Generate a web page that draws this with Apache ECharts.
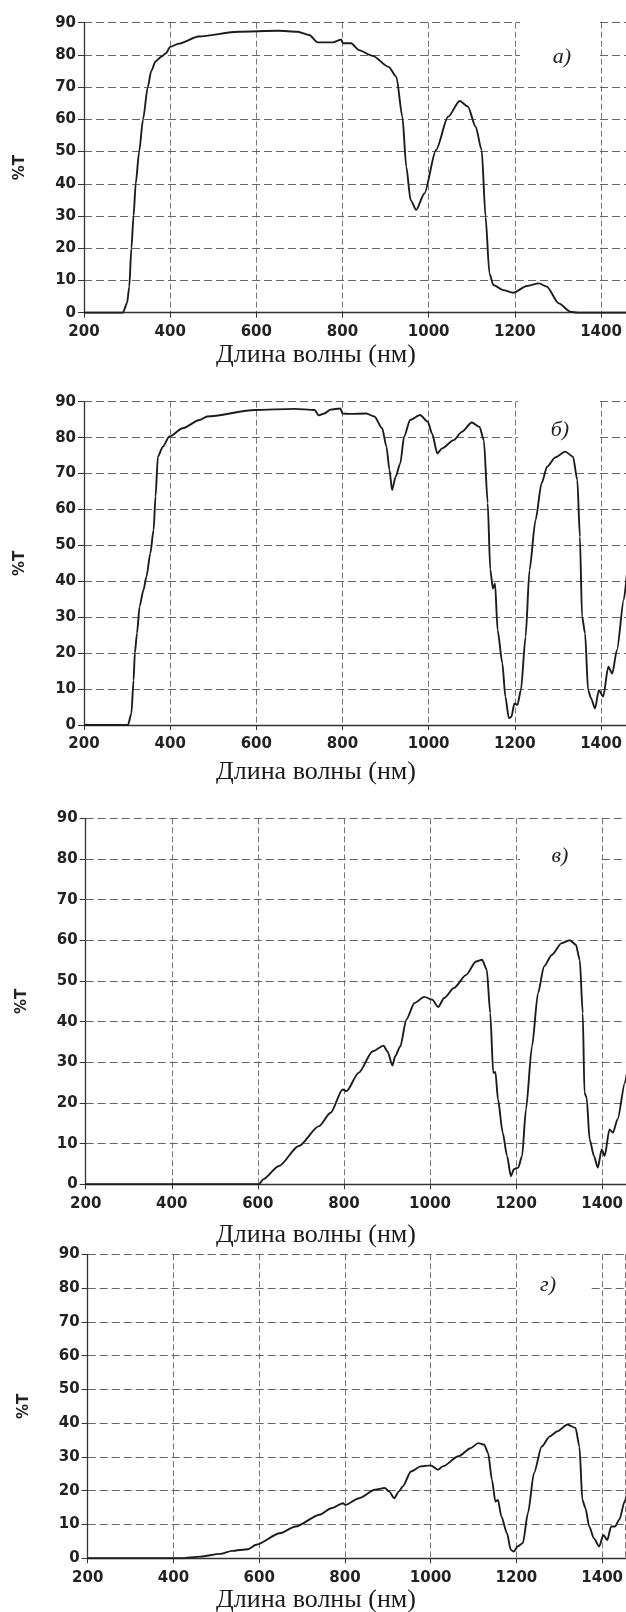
<!DOCTYPE html>
<html><head><meta charset="utf-8">
<script src="https://cdn.jsdelivr.net/npm/echarts@6/dist/echarts.min.js"></script>
<style>html,body{margin:0;padding:0;background:#fff;overflow:hidden}#c{width:626px;height:1612px}</style>
</head><body><div id="c"></div><script>
// ---- data (wavelength, nm / transmittance, %T) ----
const xTickValues = [200, 400, 600, 800, 1000, 1200, 1400];
const yTickValues = [0, 10, 20, 30, 40, 50, 60, 70, 80, 90];
const panelLabels = ['а)', 'б)', 'в)', 'г)'];
const xTitle = 'Длина волны (нм)';
const yTitle = '%T';

const waveA = [200, 290, 300, 305, 310, 315, 320, 328, 337, 348, 356, 366, 380, 390, 400, 420, 466, 558, 650, 696, 723, 742, 778, 797, 801, 820, 838, 870, 907, 925, 939, 948, 958, 971, 990, 1017, 1045, 1072, 1091, 1109, 1123, 1132, 1141, 1150, 1173, 1196, 1228, 1256, 1274, 1302, 1329, 1345, 1460];
const transA = [0, 0, 3, 8, 20, 30, 40, 50, 60, 70, 75, 78, 79.5, 80.5, 82.5, 83.5, 85.7, 87.2, 87.5, 87.2, 86.2, 83.9, 83.9, 84.8, 83.6, 83.6, 81.5, 79.7, 76.3, 73.2, 60.8, 45.3, 35, 31.9, 37, 50.5, 60.8, 65.7, 64, 57.7, 50.5, 29.8, 12.2, 8.6, 7, 6.2, 8.3, 9.1, 8.1, 2.9, 0.3, 0, 0];

const waveB = [200, 302, 310, 315, 318, 323, 329, 338, 345, 354, 361.5, 366, 371.5, 383, 398, 429, 468, 486, 597, 689, 735, 745, 758, 772, 795, 800, 818, 855, 874, 892, 902, 909, 915, 923, 934, 943, 957, 980, 998, 1008, 1020, 1031, 1058, 1077, 1100, 1118, 1128, 1137, 1143, 1149, 1154, 1160, 1171, 1178, 1186, 1192, 1199, 1206, 1214, 1225, 1234, 1248, 1262, 1275, 1294, 1317, 1335, 1345, 1351, 1356, 1363, 1370, 1377, 1386, 1395, 1405, 1417, 1426, 1437, 1453, 1460];
const transB = [0, 0, 3.2, 12.5, 20, 25.5, 33, 37.6, 41.3, 47.8, 54.3, 63.6, 74.7, 77.5, 80.3, 82.6, 84.9, 85.9, 87.7, 88, 87.7, 86.2, 86.7, 87.8, 88.1, 86.7, 86.6, 86.7, 85.9, 82.6, 77.5, 71, 65.4, 69, 72.8, 80.3, 84.9, 86.3, 84.4, 81.1, 75.6, 77, 79.3, 81.6, 84.2, 83, 79.3, 61.8, 43.2, 38, 39.4, 26.4, 17.2, 7.9, 1.9, 2.3, 6, 5.6, 9.7, 24.6, 43.1, 57, 67.3, 71.9, 74.5, 76.1, 74.7, 68.2, 52.4, 30.2, 25.5, 9.7, 7.4, 4.6, 9.7, 7.9, 16.2, 14.3, 20.9, 35, 42];

const waveC = [200, 603, 612, 649, 695, 742, 769, 797, 806, 834, 867, 892, 901, 913, 919, 931, 945, 964, 987, 1005, 1019, 1033, 1056, 1084, 1107, 1121, 1132, 1140, 1147, 1152, 1158, 1169, 1179, 1188, 1195, 1205, 1214, 1223, 1237, 1251, 1265, 1283, 1306, 1325, 1339, 1348, 1355, 1359, 1364, 1371, 1381, 1390, 1399, 1406, 1417, 1425, 1436, 1453, 1460];
const transC = [0, 0, 1.2, 4.5, 9.4, 14.3, 17.6, 23.3, 22.9, 27.4, 32.7, 34.1, 32.7, 29.2, 31.5, 33.9, 40.5, 44.6, 46.1, 45.4, 43.6, 45.8, 48.3, 51.5, 54.8, 55.2, 52.8, 42.1, 27.4, 27.6, 20.9, 12.7, 7, 2, 3.7, 4.1, 7, 18.4, 33.9, 47, 53.6, 56.4, 59.3, 60, 58.9, 55.2, 42.1, 22.5, 21.3, 11, 7, 4.1, 8.6, 7, 13.5, 12.7, 16, 25, 29];

const waveD = [200, 417, 463, 509, 537, 574, 593, 648, 685, 741, 768, 796, 801, 833, 870, 893, 903, 915, 926, 935, 954, 977, 1000, 1017, 1028, 1065, 1093, 1111, 1125, 1134, 1143, 1151, 1157, 1165, 1178, 1187, 1194, 1203, 1215, 1227, 1241, 1259, 1278, 1296, 1319, 1338, 1347, 1354, 1361, 1370, 1381, 1393, 1403, 1412, 1421, 1430, 1440, 1453, 1460];
const transD = [0, 0, 0.5, 1.3, 2.2, 2.7, 4, 7.4, 9.4, 12.9, 14.8, 16.3, 15.8, 17.8, 20.3, 20.8, 19.8, 17.8, 19.8, 21.3, 25.7, 27.2, 27.5, 26.2, 27.2, 30.2, 32.6, 34.1, 33.6, 31.2, 23.2, 16.8, 17.3, 12.4, 7.4, 2.5, 2, 3.5, 4.5, 13.4, 25.2, 33.1, 36.1, 37.6, 39.6, 38.6, 33.1, 17.3, 14.8, 9.4, 5.9, 3.5, 6.9, 5.4, 9.4, 9.4, 11.4, 17, 20];

const waves = [waveA, waveB, waveC, waveD];
const trans = [transA, transB, transC, transD];

// ---- layout ----
const grids = [
  {left: 84, top: 22.7, height: 290, xMax: 1458, titleY: 355, lab: [562, 57], box: [520, 14, 80, 52]},
  {left: 84, top: 401.7, height: 323.3, xMax: 1458, titleY: 772, lab: [560, 430], box: [518, 394, 80, 53]},
  {left: 85.7, top: 818.3, height: 366, xMax: 1455, titleY: 1235, lab: [560, 856], box: [520, 838, 80, 42]},
  {left: 87.7, top: 1254.3, height: 304, xMax: 1455, titleY: 1600, lab: [548, 1285], box: [520, 1268, 70, 36]}
];

const INK = '#1c1c1c';
const labelFont = {fontFamily: 'DejaVu Sans', fontWeight: 'bold', fontSize: 15, color: '#222'};

const chart = echarts.init(document.getElementById('c'), null, {renderer: 'canvas'});
const option = {
  backgroundColor: '#fff',
  animation: false,
  grid: grids.map(g => ({left: g.left, right: -2, top: g.top, height: g.height, containLabel: false})),
  xAxis: grids.map((g, i) => ({
    type: 'value', gridIndex: i, min: xTickValues[0], max: g.xMax, interval: 200,
    axisLine: {show: true, onZero: false, lineStyle: {color: '#333', width: 1.3}},
    axisTick: {show: true, length: 5, lineStyle: {color: '#333'}},
    axisLabel: Object.assign({margin: 12, showMaxLabel: false,
      formatter: v => (xTickValues.indexOf(v) >= 0 ? String(v) : '')}, labelFont),
    splitLine: {show: true, lineStyle: {color: '#666', width: 0.9, type: [6, 3]}}
  })),
  yAxis: grids.map((g, i) => ({
    type: 'value', gridIndex: i, min: yTickValues[0], max: yTickValues[yTickValues.length - 1], interval: 10,
    name: yTitle, nameLocation: 'middle', nameGap: 56,
    nameTextStyle: {fontFamily: 'DejaVu Sans', fontWeight: 'bold', fontSize: 15, color: '#222'},
    axisLine: {show: true, lineStyle: {color: '#333', width: 1.3}},
    axisTick: {show: true, length: 6, lineStyle: {color: '#333'}},
    axisLabel: Object.assign({margin: 8}, labelFont),
    splitLine: {show: true, lineStyle: {color: '#555', width: 0.9, type: [8, 4]}}
  })),
  series: waves.map((w, i) => ({
    type: 'line', xAxisIndex: i, yAxisIndex: i, showSymbol: false,
    smooth: 0.25, smoothMonotone: 'x',
    lineStyle: {color: INK, width: 1.9},
    data: w.map((x, k) => [x, trans[i][k]])
  })),
  graphic: []
};
grids.forEach((g, i) => {
  option.graphic.push({type: 'rect', z: 50, shape: {x: g.box[0], y: g.box[1], width: g.box[2], height: g.box[3]}, style: {fill: '#fff'}});
  option.graphic.push({type: 'text', z: 60, x: g.lab[0], y: g.lab[1],
    style: {text: panelLabels[i], font: 'italic 22px "Liberation Serif"', fill: '#222', textAlign: 'center', textVerticalAlign: 'middle'}});
  option.graphic.push({type: 'text', z: 60, x: 316, y: g.titleY,
    style: {text: xTitle, font: '26px "Liberation Serif"', fill: '#1a1a1a', textAlign: 'center', textVerticalAlign: 'middle'}});
});
chart.setOption(option);
</script></body></html>
